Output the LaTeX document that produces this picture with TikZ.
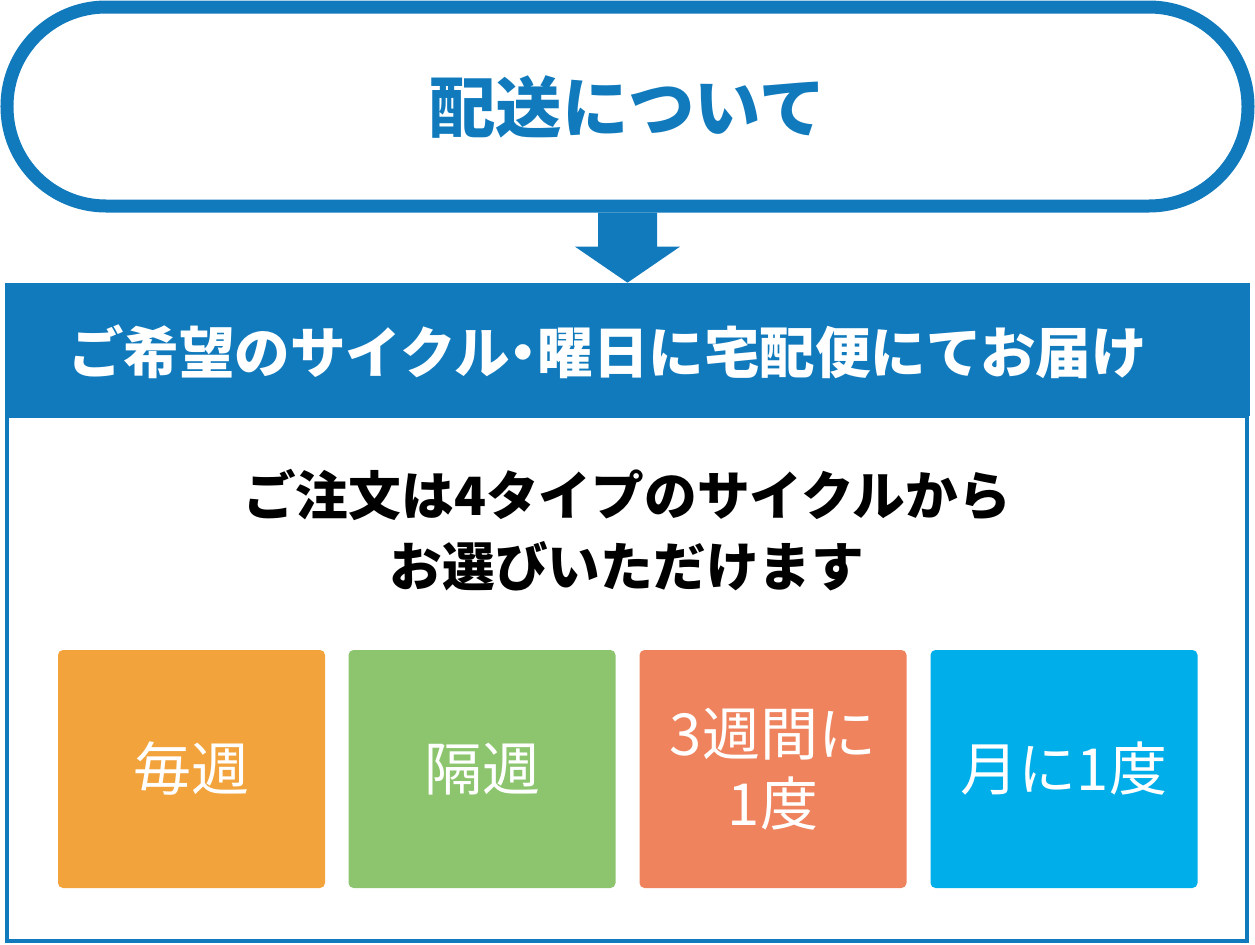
\documentclass[tikz,border=0pt]{standalone}
\usepackage{fontspec}
\setmainfont{Noto Sans CJK JP}
\definecolor{mainblue}{RGB}{16,122,189}
\definecolor{cycorange}{RGB}{242,163,59}
\definecolor{cycgreen}{RGB}{140,197,109}
\definecolor{cycsalmon}{RGB}{238,131,94}
\definecolor{cyccyan}{RGB}{0,174,233}
\usepackage{tikz}
\newcommand{\halfdot}{\kern-0.25em・\kern-0.25em}

\begin{document}
\begin{tikzpicture}[
  every node/.style={inner sep=0pt},
  cyclebox/.style={rounded corners=0.1cm, minimum width=5.34cm, minimum height=4.76cm,
                   text=white, align=center, font=\fontsize{33}{40}\selectfont}
]
  \useasboundingbox (0,0) rectangle (25.1,-18.9);
  \node[draw=mainblue, line width=0.26cm, rounded corners=1.98cm, minimum width=24.82cm,
        minimum height=3.98cm, text=mainblue, font=\bfseries\fontsize{37.8}{44}\selectfont]
        (title) at (12.55,-2.13) {配送について};
  \node[draw=mainblue, line width=0.08cm, minimum width=24.8cm, minimum height=10.5cm]
        (panel) at (12.54,-13.57) {};
  \node[fill=mainblue, minimum width=24.9cm, minimum height=2.66cm]
        (band)  at (12.55,-6.99) {};
  \node[text=white, font=\bfseries\fontsize{31.6}{36}\selectfont]
        (bandtext) at (12.15,-7.04) {ご希望のサイクル\halfdot 曜日に宅配便にてお届け};
  \fill[mainblue] ([xshift=-0.59cm]title.south) -- ([xshift=0.59cm]title.south)
    -- ([xshift=0.59cm, yshift=0.72cm]band.north) -- ([xshift=1.05cm, yshift=0.72cm]band.north)
    -- (band.north)
    -- ([xshift=-1.05cm, yshift=0.72cm]band.north) -- ([xshift=-0.59cm, yshift=0.72cm]band.north)
    -- cycle;
  \node[align=center, font=\bfseries\fontsize{30}{40}\selectfont]
        (intro) at (12.54,-10.6) {ご注文は4タイプのサイクルから\\お選びいただけます};
  \node[cyclebox, fill=cycorange] (weekly)   at (3.83,-15.38)  {毎週};
  \node[cyclebox, fill=cycgreen]  (biweekly) at (9.64,-15.38)  {隔週};
  \node[cyclebox, fill=cycsalmon] (triweek)  at (15.46,-15.38) {3週間に\\1度};
  \node[cyclebox, fill=cyccyan]   (monthly)  at (21.28,-15.38) {月に1度};
\end{tikzpicture}
\end{document}
